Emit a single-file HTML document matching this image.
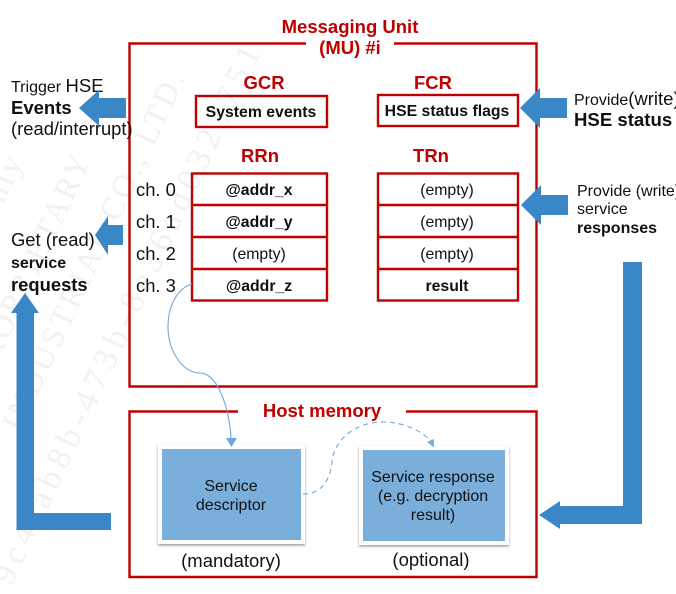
<!DOCTYPE html>
<html><head><meta charset="utf-8"><style>
html,body{margin:0;padding:0;background:#fff}
svg{display:block}
text{font-family:"Liberation Sans",Arial,sans-serif;fill:#111}
.r{fill:#c00000;font-weight:bold}
.b{font-weight:bold}
.m{text-anchor:middle}
.w{font-family:"Liberation Serif",serif;fill:#f2f1f0}
.bx{fill:none;stroke:#c00000;stroke-width:2.4}
.ar{fill:#3a87c8}
</style></head><body>
<svg width="676" height="594" viewBox="0 0 676 594" xmlns="http://www.w3.org/2000/svg">
<defs>
<filter id="s" x="-10%" y="-10%" width="120%" height="120%"><feDropShadow dx="0" dy="1.5" stdDeviation="1.2" flood-color="#000" flood-opacity=".4"/></filter>
</defs>
<text class="w" font-size="34" letter-spacing="6" transform="translate(11.600,587) rotate(-65)">9c4fab8b-473b-8e36ad0323751</text>
<text class="w" font-size="32" letter-spacing="3" transform="translate(20,433) rotate(-65)">INDUSTRIAL CO., LTD.</text>
<text class="w" font-size="32" letter-spacing="3" transform="translate(-12,382) rotate(-65)">PROPRIETARY</text>
<text class="w" font-size="32" letter-spacing="3" transform="translate(-5,222) rotate(-65)">only</text>

<path class="bx" d="M306 43.500H536.500V386.500H129.500V43.500H306"/>
<path fill="none" stroke="#fff" stroke-width="5" d="M306 43.500H394"/>
<path class="bx" d="M238 411.500H129.500V577H536.500V411.500H406"/>

<rect class="bx" x="196" y="96" width="131" height="31"/>
<rect class="bx" x="378" y="95" width="140" height="31"/>
<rect class="bx" x="192" y="173.500" width="135" height="127"/>
<path class="bx" d="M192 205H327M192 237H327M192 269H327"/>
<rect class="bx" x="378" y="173.500" width="140" height="127"/>
<path class="bx" d="M378 205H518M378 237H518M378 269H518"/>

<g font-size="18.500">
<text class="r m" x="350" y="33">Messaging Unit</text>
<text class="r m" x="350" y="54">(MU) #i</text>
<text class="r m" x="264" y="89">GCR</text>
<text class="r m" x="433" y="89">FCR</text>
<text class="r m" x="260" y="162">RRn</text>
<text class="r m" x="431" y="162">TRn</text>
<text class="r m" x="322" y="417">Host memory</text>
</g>

<g font-size="15.800">
<text class="b m" x="261" y="117">System events</text>
<text class="b m" x="447" y="116">HSE status flags</text>
<text class="b m" x="259" y="195">@addr_x</text>
<text class="b m" x="259" y="227">@addr_y</text>
<text class="m" x="259" y="259">(empty)</text>
<text class="b m" x="259" y="291">@addr_z</text>
<text class="m" x="447" y="195">(empty)</text>
<text class="m" x="447" y="227">(empty)</text>
<text class="m" x="447" y="259">(empty)</text>
<text class="b m" x="447" y="291">result</text>
</g>
<g font-size="18.400">
<text x="136" y="196">ch. 0</text>
<text x="136" y="228">ch. 1</text>
<text x="136" y="260">ch. 2</text>
<text x="136" y="292">ch. 3</text>
</g>

<text x="11" y="92" font-size="16">Trigger <tspan font-size="18.500">HSE</tspan></text>
<text class="b" x="11" y="114" font-size="18.500">Events</text>
<text x="11" y="135" font-size="18.400">(read/interrupt)</text>
<text x="11" y="246" font-size="18.400">Get (read)</text>
<text class="b" x="11" y="268" font-size="16">service</text>
<text class="b" x="11" y="291" font-size="18.400">requests</text>
<text x="574" y="105" font-size="16">Provide<tspan font-size="18.500">(write)</tspan></text>
<text class="b" x="574" y="126" font-size="18.600">HSE status</text>
<text x="577" y="196" font-size="16">Provide (write)</text>
<text x="577" y="214" font-size="16">service</text>
<text class="b" x="577" y="233" font-size="16">responses</text>

<path class="ar" d="M126 98V118H99V126L79 108L99 90V98Z"/>
<path class="ar" d="M123 225V245H108V255L95 235L108 216V225Z"/>
<path class="ar" d="M567 98V118H540V128L520 108L540 88V98Z"/>
<path class="ar" d="M568 195V215H541V225L521 205L541 185V195Z"/>
<path class="ar" d="M623 262H642V524H560V529L539 515L560 501V506H623Z"/>
<path class="ar" d="M111 513V530H16.500V313H11L25 293L39 313H34V513Z"/>

<rect x="158" y="445" width="147" height="99" fill="#fff" filter="url(#s)"/>
<rect x="162" y="449" width="139" height="91" fill="#7aaedb"/>
<rect x="359" y="446" width="150" height="99" fill="#fff" filter="url(#s)"/>
<rect x="363" y="450" width="142" height="91" fill="#7aaedb"/>

<g font-size="16">
<text class="m" x="231" y="491">Service</text>
<text class="m" x="231" y="510">descriptor</text>
<text class="m" x="433" y="482">Service response</text>
<text class="m" x="433" y="501">(e.g. decryption</text>
<text class="m" x="433" y="520">result)</text>
</g>
<text class="m" x="231" y="567" font-size="18.500">(mandatory)</text>
<text class="m" x="431" y="566" font-size="18.500">(optional)</text>

<path fill="none" stroke="#6fa8d8" stroke-width="1.100" d="M192 284C178 288 168 305 168 327C168 350 182 373 200 373C218 373 230 410 231 439"/>
<path fill="#6fa8d8" d="M226 438H237L231.500 447Z"/>
<path fill="none" stroke="#7aaedb" stroke-width="1.200" stroke-dasharray="5 4" d="M303 494C322 494 330 480 332 462C334 440 355 422 383 422C405 422 423 432 432 442"/>
<path fill="#7aaedb" d="M427 442L434 439V447.500Z"/>
</svg>
</body></html>
